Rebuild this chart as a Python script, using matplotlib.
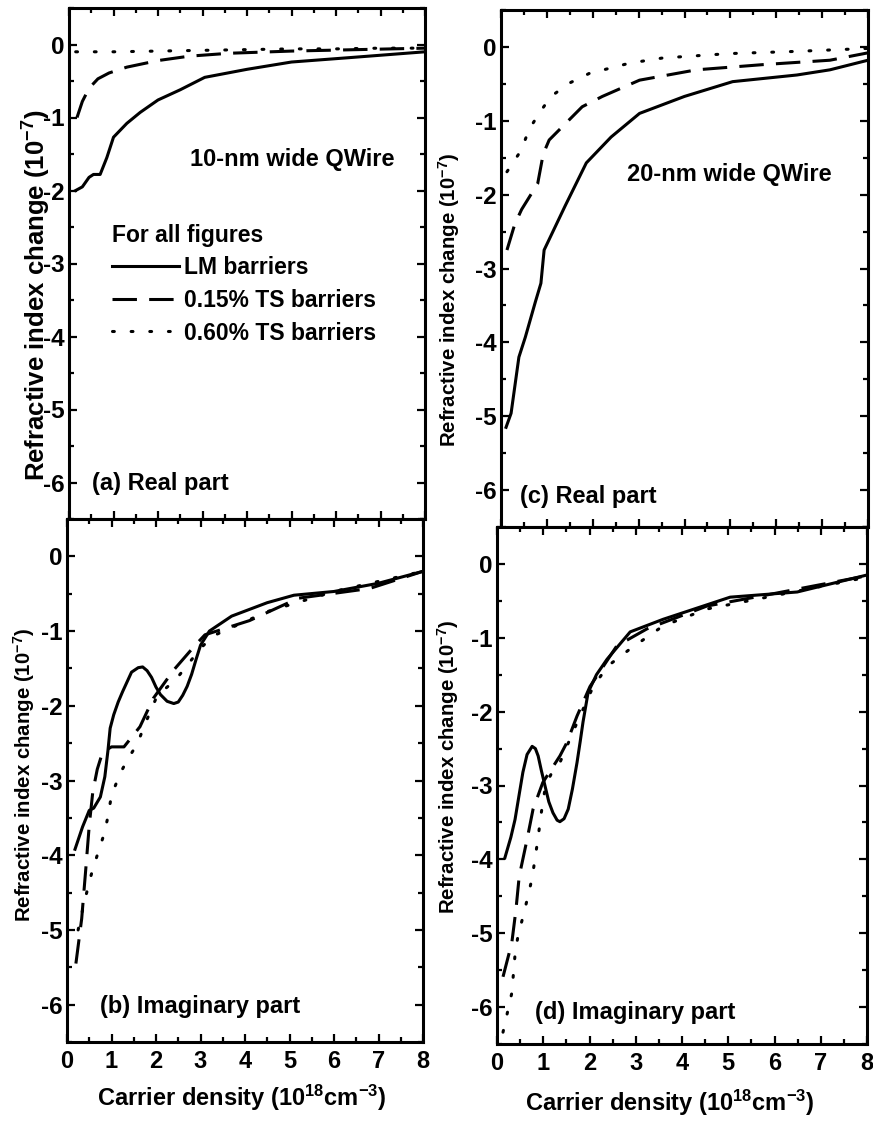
import numpy as np
import matplotlib
matplotlib.use("Agg")
import matplotlib.pyplot as plt
from matplotlib.lines import Line2D
from matplotlib.ticker import MultipleLocator

# ==============================
# Data, units: 1e18 cm^-3 and 1e-7
# ==============================
# (a) 10-nm wire, real part
a_lm_x = [0.15, 0.3, 0.45, 0.55, 0.7, 0.85, 1.0, 1.3, 1.6, 2.0, 2.5, 3.05, 4.0, 5.0, 6.3, 8.0]
a_lm_y = [-2.0, -1.95, -1.82, -1.78, -1.78, -1.55, -1.27, -1.08, -0.93, -0.76, -0.62, -0.45, -0.34, -0.24, -0.18, -0.1]
a_ts15_x = [0.18, 0.3, 0.45, 0.65, 0.9, 1.3, 2.0, 2.7, 3.6, 5.0, 6.5, 8.0]
a_ts15_y = [-1.0, -0.78, -0.6, -0.47, -0.39, -0.31, -0.22, -0.16, -0.12, -0.09, -0.07, -0.05]
a_ts60_x = [0.15, 1.0, 2.0, 3.0, 4.0, 5.0, 6.0, 7.0, 8.0]
a_ts60_y = [-0.1, -0.1, -0.09, -0.08, -0.07, -0.06, -0.06, -0.05, -0.05]

# (b) 10-nm wire, imaginary part
b_lm_x = [0.18, 0.35, 0.5, 0.6, 0.75, 0.85, 0.92, 0.97, 1.05, 1.15, 1.25, 1.45, 1.6, 1.7, 1.8, 1.9, 2.0, 2.1,
          2.25, 2.4, 2.5, 2.6, 2.7, 2.8, 2.9, 3.0, 3.2, 3.7, 4.5, 5.1, 6.0, 7.0, 8.0]
b_lm_y = [-3.92, -3.62, -3.4, -3.37, -3.22, -2.95, -2.6, -2.3, -2.12, -1.95, -1.81, -1.55, -1.49, -1.48, -1.53,
          -1.62, -1.75, -1.85, -1.94, -1.97, -1.95, -1.86, -1.74, -1.58, -1.38, -1.19, -1.0, -0.8, -0.62, -0.52,
          -0.47, -0.36, -0.2]
b_ts15_x = [0.2, 0.33, 0.42, 0.5, 0.58, 0.68, 0.8, 1.0, 1.28, 1.64, 1.94, 2.4, 2.88, 3.1, 4.1, 5.2, 6.8, 8.0]
b_ts15_y = [-5.45, -4.85, -4.2, -3.6, -3.15, -2.85, -2.62, -2.55, -2.55, -2.28, -1.9, -1.52, -1.19, -1.05, -0.86,
            -0.56, -0.43, -0.2]
b_ts60_x = [0.25, 0.4, 0.55, 0.7, 0.81, 0.9, 1.0, 1.19, 1.37, 1.58, 1.75, 2.03, 2.43, 2.7, 3.0, 3.3, 4.5, 6.0, 8.0]
b_ts60_y = [-5.0, -4.6, -4.25, -3.96, -3.76, -3.54, -3.2, -2.91, -2.71, -2.51, -2.25, -1.86, -1.66, -1.46, -1.23,
            -1.06, -0.74, -0.47, -0.2]

# (c) 20-nm wire, real part
c_lm_x = [0.11, 0.22, 0.39, 0.53, 0.75, 0.87, 0.94, 1.4, 1.86, 2.4, 3.02, 4.0, 5.05, 6.45, 7.17, 8.0]
c_lm_y = [-5.15, -4.96, -4.2, -3.93, -3.45, -3.2, -2.75, -2.15, -1.57, -1.22, -0.9, -0.67, -0.47, -0.38, -0.31, -0.18]
c_ts15_x = [0.13, 0.3, 0.45, 0.6, 0.8, 0.92, 1.05, 1.77, 2.21, 3.02, 4.26, 5.7, 7.17, 8.0]
c_ts15_y = [-2.75, -2.4, -2.2, -2.05, -1.85, -1.45, -1.26, -0.81, -0.67, -0.45, -0.31, -0.24, -0.18, -0.08]
c_ts60_x = [0.13, 0.44, 0.61, 0.83, 1.09, 1.49, 1.92, 2.8, 3.52, 4.98, 6.45, 8.0]
c_ts60_y = [-1.69, -1.4, -1.12, -0.9, -0.67, -0.49, -0.36, -0.22, -0.15, -0.09, -0.06, -0.02]

# (d) 20-nm wire, imaginary part
d_lm_x = [0.17, 0.3, 0.39, 0.48, 0.56, 0.65, 0.76, 0.83, 0.89, 0.96, 1.04, 1.12, 1.21, 1.3, 1.36, 1.45, 1.54,
          1.63, 1.73, 1.8, 1.86, 1.97, 2.15, 2.38, 2.88, 3.59, 5.04, 6.49, 8.0]
d_lm_y = [-3.98, -3.7, -3.46, -3.12, -2.82, -2.58, -2.47, -2.5, -2.6, -2.8, -3.01, -3.22, -3.37, -3.47, -3.49,
          -3.45, -3.32, -3.05, -2.69, -2.4, -2.14, -1.74, -1.5, -1.29, -0.92, -0.75, -0.45, -0.38, -0.15]
d_ts15_x = [0.13, 0.32, 0.41, 0.48, 0.65, 0.78, 0.99, 1.36, 1.51, 1.73, 2.01, 2.59, 3.24, 4.54, 5.75, 8.0]
d_ts15_y = [-5.59, -5.13, -4.68, -4.23, -3.73, -3.32, -2.96, -2.6, -2.42, -2.06, -1.66, -1.11, -0.88, -0.57,
            -0.43, -0.16]
d_ts60_x = [0.13, 0.32, 0.39, 0.45, 0.56, 0.67, 0.76, 0.82, 0.89, 0.95, 1.05, 1.19, 1.36, 1.73, 2.08, 2.4, 2.88,
            3.59, 4.54, 6.0, 8.0]
d_ts60_y = [-6.34, -5.81, -5.29, -5.05, -4.78, -4.5, -4.25, -4.0, -3.7, -3.4, -3.0, -2.82, -2.69, -2.15, -1.66,
            -1.38, -1.15, -0.84, -0.61, -0.43, -0.18]

legend_labels = ["LM barriers", "0.15% TS barriers", "0.60% TS barriers"]

# ==============================
# Style
# ==============================
plt.rcParams['font.family'] = ['Liberation Sans', 'DejaVu Sans']
plt.rcParams['font.weight'] = 'bold'
plt.rcParams['mathtext.fontset'] = 'custom'
plt.rcParams['mathtext.rm'] = 'Liberation Sans:bold'
plt.rcParams['mathtext.bf'] = 'Liberation Sans:bold'
plt.rcParams['mathtext.default'] = 'rm'
plt.rcParams['axes.unicode_minus'] = False

W, H = 873, 1121
LW = 2.2
STYLES = [
    dict(linestyle='-'),
    dict(linestyle=(0, (8, 4))),
    dict(linestyle=(0, (0.6, 5.5)), dash_capstyle='round'),
]


def rect(left, right, top, bottom):
    return [left / W, 1 - bottom / H, (right - left) / W, (bottom - top) / H]


def fx(px):
    return px / W


def fy(py):
    return 1 - py / H


fig = plt.figure(figsize=(W / 100, H / 100), dpi=100)

ax_a = fig.add_axes(rect(69, 425, 8, 519))
ax_b = fig.add_axes(rect(67, 423, 519, 1042))
ax_c = fig.add_axes(rect(501, 868, 10, 527))
ax_d = fig.add_axes(rect(497, 867, 527, 1044))

panels = [
    (ax_a, [(a_lm_x, a_lm_y), (a_ts15_x, a_ts15_y), (a_ts60_x, a_ts60_y)]),
    (ax_b, [(b_lm_x, b_lm_y), (b_ts15_x, b_ts15_y), (b_ts60_x, b_ts60_y)]),
    (ax_c, [(c_lm_x, c_lm_y), (c_ts15_x, c_ts15_y), (c_ts60_x, c_ts60_y)]),
    (ax_d, [(d_lm_x, d_lm_y), (d_ts15_x, d_ts15_y), (d_ts60_x, d_ts60_y)]),
]

for ax, series in panels:
    for (xs, ys), st in zip(series, STYLES):
        ax.plot(xs, ys, color='black', linewidth=LW, solid_joinstyle='round', **st)
    ax.set_xlim(0, 8)
    ax.set_ylim(-6.5, 0.5)
    ax.xaxis.set_major_locator(MultipleLocator(1))
    ax.xaxis.set_minor_locator(MultipleLocator(0.5))
    ax.yaxis.set_major_locator(MultipleLocator(1))
    ax.yaxis.set_minor_locator(MultipleLocator(0.5))
    ax.tick_params(which='both', direction='in', top=True, right=True, width=1.6)
    ax.tick_params(which='major', length=6)
    ax.tick_params(which='minor', length=3.5)
    ax.tick_params(axis='y', labelsize=17.5, pad=3)
    ax.tick_params(axis='x', labelsize=17, pad=6)
    for sp in ax.spines.values():
        sp.set_linewidth(2.2)

for ax in (ax_a, ax_c):
    ax.tick_params(axis='x', labelbottom=False)

# axis labels
ylab = "Refractive index change (10$^{-7}$)"
xlab = "Carrier density (10$^{18}$cm$^{-3}$)"
fig.text(fx(37), fy(295), ylab, rotation=90, ha='center', va='center', fontsize=18.5)
fig.text(fx(24), fy(775), ylab, rotation=90, ha='center', va='center', fontsize=14.7)
fig.text(fx(449), fy(300), ylab, rotation=90, ha='center', va='center', fontsize=14.7)
fig.text(fx(448), fy(767), ylab, rotation=90, ha='center', va='center', fontsize=14.7)
fig.text(fx(242), fy(1098), xlab, ha='center', va='center', fontsize=17)
fig.text(fx(670), fy(1103), xlab, ha='center', va='center', fontsize=17)

# annotations
fig.text(fx(190), fy(160), "10-nm wide QWire", ha='left', va='center', fontsize=17)
fig.text(fx(627), fy(175), "20-nm wide QWire", ha='left', va='center', fontsize=17)
fig.text(fx(92), fy(483), "(a) Real part", ha='left', va='center', fontsize=17)
fig.text(fx(100), fy(1007), "(b) Imaginary part", ha='left', va='center', fontsize=17)
fig.text(fx(520), fy(497), "(c) Real part", ha='left', va='center', fontsize=17)
fig.text(fx(535), fy(1012), "(d) Imaginary part", ha='left', va='center', fontsize=17)

# legend
handles = [Line2D([], [], color='black', linewidth=LW, **st) for st in STYLES]
leg = ax_a.legend(handles, legend_labels, title="For all figures", loc='upper left',
                  bbox_to_anchor=(0.12, 0.578), frameon=False, fontsize=16.5,
                  title_fontproperties={'size': 16.5, 'weight': 'bold'},
                  handlelength=2.95, handletextpad=0.22, labelspacing=0.42,
                  borderpad=0, borderaxespad=0, alignment='left')

fig.savefig("out.png", dpi=100)
